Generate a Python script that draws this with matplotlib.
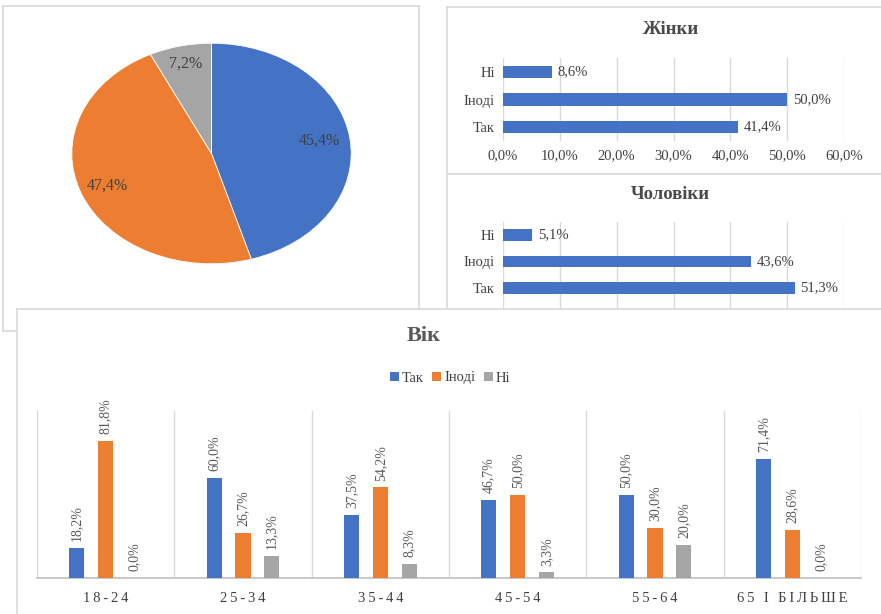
import numpy as np
import matplotlib
matplotlib.use("Agg")
import matplotlib.pyplot as plt
from matplotlib.ticker import FuncFormatter

plt.rcParams['font.family'] = ['Liberation Serif', 'DejaVu Serif']

# --- data ---
answers = ["Так", "Іноді", "Ні"]
pie_values = [45.4, 47.4, 7.2]
women = [41.4, 50.0, 8.6]
men = [51.3, 43.6, 5.1]
age_groups = ["18-24", "25-34", "35-44", "45-54", "55-64", "65 І БІЛЬШЕ"]
age_tak = [18.2, 60.0, 37.5, 46.7, 50.0, 71.4]
age_inodi = [81.8, 26.7, 54.2, 50.0, 30.0, 28.6]
age_ni = [0.0, 13.3, 8.3, 3.3, 20.0, 0.0]

colors = ["#4472C4", "#ED7D31", "#A5A5A5"]
grid_c = "#D9D9D9"
txt_c = "#404040"

W, H = 881, 614
fig = plt.figure(figsize=(W / 100, H / 100), dpi=100)


def rect(x0, y0, x1, y1):
    return [x0 / W, 1 - y1 / H, (x1 - x0) / W, (y1 - y0) / H]


def panel(x0, y0, x1, y1, z):
    a = fig.add_axes(rect(x0, y0, x1, y1), zorder=z)
    a.set_xticks([])
    a.set_yticks([])
    for s in a.spines.values():
        s.set_color(grid_c)
        s.set_linewidth(1.2)
    a.set_facecolor("white")
    return a


def pct(v):
    return f"{v:.1f}%".replace(".", ",")


# --- pie panel ---
panel(3, 6, 419, 331, 1)
ax_pie = fig.add_axes(rect(69, 41, 354, 266), zorder=2)
wedges, _ = ax_pie.pie(pie_values, colors=colors, startangle=90, counterclock=False,
                       radius=1, wedgeprops=dict(linewidth=0.6, edgecolor="white"))
mids = 90 - (np.cumsum(pie_values) - np.array(pie_values) / 2) * 3.6
for v, a, r in zip(pie_values, mids, [0.78, 0.8, 0.84]):
    ax_pie.text(r * np.cos(np.radians(a)), r * np.sin(np.radians(a)), pct(v),
                ha="center", va="center", fontsize=11.5, color=txt_c)
ax_pie.set_xlim(-1.02, 1.02)
ax_pie.set_ylim(-1.02, 1.02)
ax_pie.set_aspect("auto")


# --- gender bar charts ---
def hbar(ax, vals, show_ticks):
    y = np.arange(len(answers))
    ax.barh(y, vals, height=0.45, color=colors[0], zorder=3)
    for yi, v in zip(y, vals):
        ax.text(v + 1.0, yi, pct(v), va="center", ha="left", fontsize=10.5, color=txt_c)
    ax.set_xlim(0, 60)
    ax.set_ylim(-0.5, 2.5)
    ax.set_yticks(y)
    ax.set_yticklabels(answers, fontsize=10.5, color=txt_c)
    ax.set_xticks(np.arange(0, 61, 10))
    ax.xaxis.set_major_formatter(FuncFormatter(lambda v, p: pct(v)))
    ax.tick_params(length=0, labelsize=10.5, labelcolor=txt_c, pad=6)
    if not show_ticks:
        ax.set_xticklabels([])
    ax.grid(axis="x", color=grid_c, linewidth=1, zorder=0)
    for s in ax.spines.values():
        s.set_visible(False)
    ax.set_facecolor("none")


panel(447, 7, 885, 174, 1)
ax_w = fig.add_axes(rect(503, 58, 844, 141), zorder=2)
hbar(ax_w, women, True)
fig.text(670 / W, 1 - 30 / H, "Жінки", ha="center", va="center",
         fontsize=13.5, fontweight="bold", color="#4a4a4a")

panel(447, 174, 885, 320, 1)
ax_m = fig.add_axes(rect(503, 222, 844, 310), zorder=2)
hbar(ax_m, men, False)
ax_m.set_ylim(-0.5 - 9 / 26, 2.5)
fig.text(670 / W, 1 - 195 / H, "Чоловіки", ha="center", va="center",
         fontsize=13.5, fontweight="bold", color="#4a4a4a")

# --- age panel ---
bp = panel(17, 309, 886, 620, 5)
ax_a = fig.add_axes(rect(37, 411, 861, 578), zorder=6)
x = np.arange(len(age_groups))
bw = 0.11
off = 0.21
for i, (vals, c) in enumerate(zip([age_tak, age_inodi, age_ni], colors)):
    xs = x + (i - 1) * off
    ax_a.bar(xs, vals, width=bw, color=c, label=answers[i], zorder=3)
    for xi, v in zip(xs, vals):
        ax_a.annotate(pct(v), (xi, v), xytext=(0, 5), textcoords="offset points",
                      rotation=90, ha="center", va="bottom", fontsize=10,
                      color="#595959")
ax_a.set_xlim(-0.5, len(age_groups) - 0.5)
ax_a.set_ylim(0, 100)
ax_a.set_yticks([])
ax_a.set_xticks(x)
ax_a.set_xticklabels(["\u2009".join(g) for g in age_groups], fontsize=10.5, color=txt_c)
ax_a.set_xticks(np.arange(-0.5, len(age_groups), 1), minor=True)
ax_a.grid(axis="x", which="minor", color=grid_c, linewidth=1, zorder=0)
ax_a.tick_params(which="both", length=0, pad=10)
for s in ["top", "left", "right"]:
    ax_a.spines[s].set_visible(False)
ax_a.spines["bottom"].set_color("#BFBFBF")
ax_a.spines["bottom"].set_linewidth(1.2)
ax_a.set_facecolor("none")
fig.text(424 / W, 1 - 336 / H, "Вік", ha="center", va="center",
         fontsize=16, fontweight="bold", color="#595959", zorder=7)
fig.legend(*ax_a.get_legend_handles_labels(), loc="center", bbox_to_anchor=(450 / W, 1 - 378 / H),
           ncol=3, frameon=False, fontsize=10.5, handlelength=0.6, handleheight=0.6,
           handletextpad=0.2, columnspacing=0.6, labelcolor=txt_c).set_zorder(8)

fig.savefig("out.png", dpi=100)
